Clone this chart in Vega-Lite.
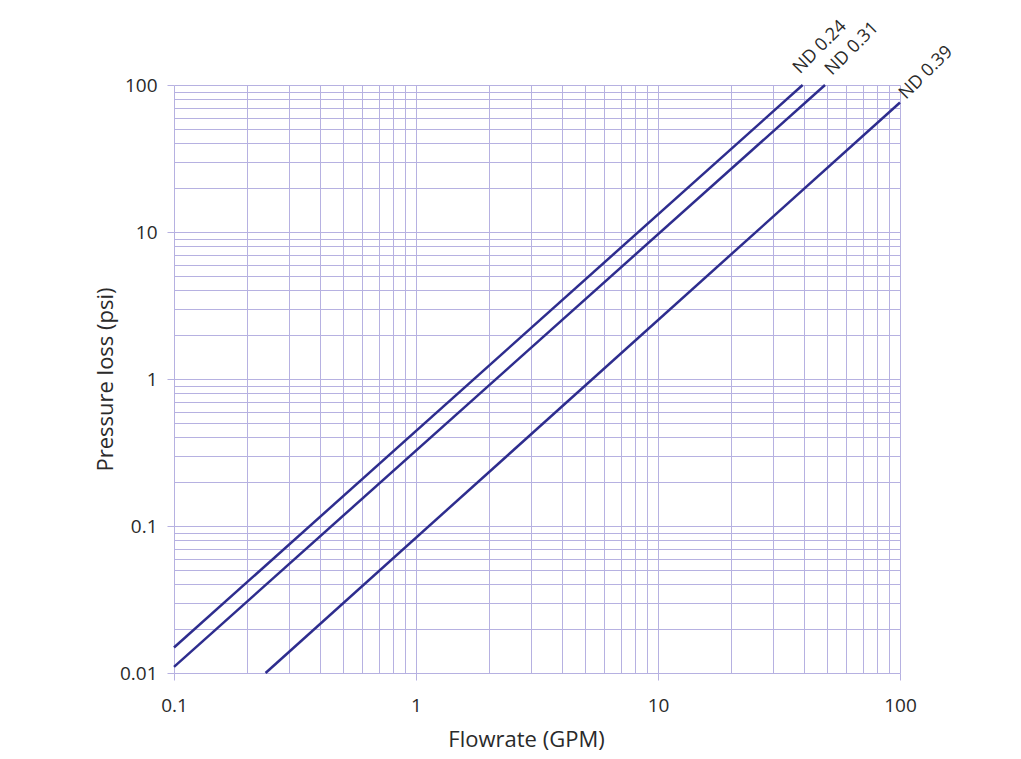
{
  "$schema": "https://vega.github.io/schema/vega-lite/v6.json",
  "autosize": {"type": "none"},
  "padding": {"left": 174, "top": 85, "right": 121, "bottom": 86},
  "width": 726,
  "height": 588,
  "background": "#ffffff",
  "config": {"view": {"stroke": null}, "font": "Open Sans"},
  "encoding": {
    "x": {
      "field": "x",
      "type": "quantitative",
      "scale": {"type": "log", "domain": [0.1, 100], "nice": false},
      "axis": {
        "title": "Flowrate (GPM)",
        "values": [0.1,0.2,0.3,0.4,0.5,0.6,0.7,0.8,0.9,1,2,3,4,5,6,7,8,9,10,20,30,40,50,60,70,80,90,100],
        "labelExpr": "indexof([0.1,1,10,100], datum.value) >= 0 ? format(datum.value, '~g') : ''",
        "domain": false,
        "grid": true,
        "gridColor": "#b6b1e1",
        "gridWidth": 1,
        "gridOpacity": 1,
        "tickColor": "#b6b1e1",
        "tickSize": 7,
        "tickOpacity": {"condition": {"test": "indexof([0.1,1,10,100], datum.value) >= 0", "value": 1}, "value": 0},
        "labelFont": "Open Sans",
        "labelFontSize": 19,
        "labelColor": "#2a2a2a",
        "labelPadding": 16,
        "labelFlush": false,
        "labelOverlap": false,
        "titleFont": "Open Sans",
        "titleFontSize": 22,
        "titleFontWeight": "normal",
        "titleColor": "#2a2a2a",
        "titleX": 352,
        "titleY": 73,
        "titleBaseline": "alphabetic"
      }
    },
    "y": {
      "field": "y",
      "type": "quantitative",
      "scale": {"type": "log", "domain": [0.01, 100], "nice": false},
      "axis": {
        "title": "Pressure loss (psi)",
        "values": [0.01,0.02,0.03,0.04,0.05,0.06,0.07,0.08,0.09,0.1,0.2,0.3,0.4,0.5,0.6,0.7,0.8,0.9,1,2,3,4,5,6,7,8,9,10,20,30,40,50,60,70,80,90,100],
        "labelExpr": "indexof([0.01,0.1,1,10,100], datum.value) >= 0 ? format(datum.value, '~g') : ''",
        "domain": false,
        "grid": true,
        "gridColor": "#b6b1e1",
        "gridWidth": 1,
        "gridOpacity": 1,
        "tickColor": "#b6b1e1",
        "tickSize": 7,
        "tickOpacity": {"condition": {"test": "indexof([0.01,0.1,1,10,100], datum.value) >= 0", "value": 1}, "value": 0},
        "labelFont": "Open Sans",
        "labelFontSize": 19,
        "labelColor": "#2a2a2a",
        "labelPadding": 10,
        "labelFlush": false,
        "labelOverlap": false,
        "titleFont": "Open Sans",
        "titleFontSize": 22,
        "titleFontWeight": "normal",
        "titleColor": "#2a2a2a",
        "titleX": -62,
        "titleY": 294,
        "titleAngle": -90,
        "titleAlign": "center",
        "titleBaseline": "alphabetic"
      }
    }
  },
  "layer": [
    {
      "data": {"values": [
        {"series": "ND 0.24", "x": 0.1, "y": 0.0149},
        {"series": "ND 0.24", "x": 39.6, "y": 100},
        {"series": "ND 0.31", "x": 0.1, "y": 0.011},
        {"series": "ND 0.31", "x": 49, "y": 100},
        {"series": "ND 0.39", "x": 0.239, "y": 0.01},
        {"series": "ND 0.39", "x": 100, "y": 76}
      ]},
      "mark": {"type": "line", "stroke": "#2e2d8e", "strokeWidth": 2.5, "clip": false},
      "encoding": {"detail": {"field": "series", "type": "nominal"}}
    },
    {
      "data": {"values": [
        {"label": "ND 0.24", "x": 38.6, "y": 118},
        {"label": "ND 0.31", "x": 52.4, "y": 115},
        {"label": "ND 0.39", "x": 106, "y": 79.1}
      ]},
      "mark": {"type": "text", "angle": -45, "align": "left", "baseline": "alphabetic", "font": "Open Sans", "fontSize": 18, "color": "#2a2a2a", "clip": false},
      "encoding": {"text": {"field": "label", "type": "nominal"}}
    }
  ]
}
